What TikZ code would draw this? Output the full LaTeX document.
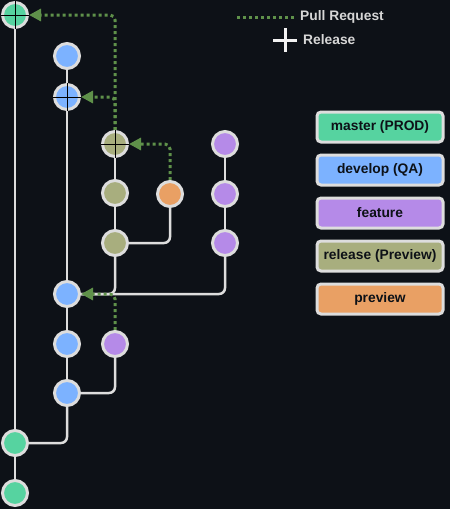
\documentclass[tikz,border=0pt]{standalone}
\usepackage{fontspec}
\setmainfont{Liberation Sans}
\usetikzlibrary{arrows.meta,backgrounds}

\definecolor{bgdark}{HTML}{0D1117}
\definecolor{ringgray}{HTML}{DDDDDD}
\definecolor{masterc}{HTML}{56D3A0}
\definecolor{developc}{HTML}{7CB2FF}
\definecolor{featurec}{HTML}{B58AE8}
\definecolor{releasec}{HTML}{A8AE7E}
\definecolor{previewc}{HTML}{E9A064}
\definecolor{prgreen}{HTML}{5F914A}
\definecolor{labelgray}{HTML}{D6D6D6}

\begin{document}
\begin{tikzpicture}[
        x=1pt, y=-1pt,
        every node/.style={font=\bfseries\fontsize{13.8}{16}\selectfont},
        commit/.style={draw=ringgray, circle, line width=3pt, minimum size=25pt, inner sep=0pt},
        branch/.style={ringgray, line width=2.5pt, rounded corners=6pt},
        pullreq/.style={prgreen, line width=3pt, dash pattern=on 3pt off 3pt, rounded corners=5pt,
            -{Triangle[length=12pt,width=12pt]}},
        tagline/.style={black, line width=1pt},
        legbox/.style={draw=ringgray, rectangle, rounded corners=4pt, line width=3pt,
            minimum width=126pt, minimum height=30pt, inner xsep=2pt, text=bgdark},
        legtext/.style={right, text=labelgray, inner sep=0pt}
    ]
        \useasboundingbox (0,0) rectangle (450,509);

        % Master
        \node[commit, fill=masterc] (M1) at (15, 15) {};
        \node[commit, fill=masterc] (M2) at (15, 443) {};
        \node[commit, fill=masterc] (M3) at (15, 493) {};

        % Develop
        \node[commit, fill=developc] (D1) at (67, 56) {};
        \node[commit, fill=developc] (D2) at (67, 97) {};
        \node[commit, fill=developc] (D3) at (67, 294) {};
        \node[commit, fill=developc] (D4) at (67, 344) {};
        \node[commit, fill=developc] (D5) at (67, 393) {};

        % Release
        \node[commit, fill=releasec] (R1) at (115, 144) {};
        \node[commit, fill=releasec] (R2) at (115, 193) {};
        \node[commit, fill=releasec] (R3) at (115, 243) {};

        % Preview
        \node[commit, fill=previewc] (P1) at (170, 194) {};

        % Feature
        \node[commit, fill=featurec] (F1) at (225, 144) {};
        \node[commit, fill=featurec] (F2) at (225, 194) {};
        \node[commit, fill=featurec] (F3) at (225, 243) {};
        \node[commit, fill=featurec] (F4) at (115, 344) {};

        % Release marks
        \foreach \n in {M1, D2, R1}
            \draw[tagline] (\n.west) -- (\n.east) (\n.north) -- (\n.south);

        \begin{pgfonlayer}{background}
            \fill[bgdark] (0,0) rectangle (450,509);

            % Branches
            \draw[branch] (M1) -- (M2) -- (M3);
            \draw[branch] (D1) -- (D2) -- (D3) -- (D4) -- (D5);
            \draw[branch] (R1) -- (R2) -- (R3);
            \draw[branch] (F1) -- (F2) -- (F3);
            \draw[branch] (D5) |- (M2);
            \draw[branch] (R3) |- (D3);
            \draw[branch] (F3) |- (D3);
            \draw[branch] (P1) |- (R3);
            \draw[branch] (F4) |- (D5);

            % Pull requests
            \draw[pullreq] (R1) |- (M1);
            \draw[pullreq] (R1) |- (D2);
            \draw[pullreq] (P1) |- (R1);
            \draw[pullreq] (F4) |- (D3);
        \end{pgfonlayer}

        % Legende
        \coordinate (pr1) at (237, 17);
        \coordinate (pr2) at (295, 17);
        \draw[prgreen, line width=3pt, dash pattern=on 3pt off 3pt] (pr1) -- (pr2);
        \node[legtext] (prtext) at (300, 17) {Pull Request};
        \draw[white!90!gray, line width=3pt] (273, 40) -- (297, 40) (285, 28) -- (285, 52);
        \node[legtext] (reltext) at (303, 40) {Release};

        \node[legbox, fill=masterc] (lmaster) at (380, 127) {master (PROD)};
        \node[legbox, fill=developc] (ldevelop) at (380, 170) {develop (QA)};
        \node[legbox, fill=featurec] (lfeature) at (380, 213) {feature};
        \node[legbox, fill=releasec] (lrelease) at (380, 256) {release (Preview)};
        \node[legbox, fill=previewc] (lpreview) at (380, 299) {preview};

    \end{tikzpicture}
\end{document}
